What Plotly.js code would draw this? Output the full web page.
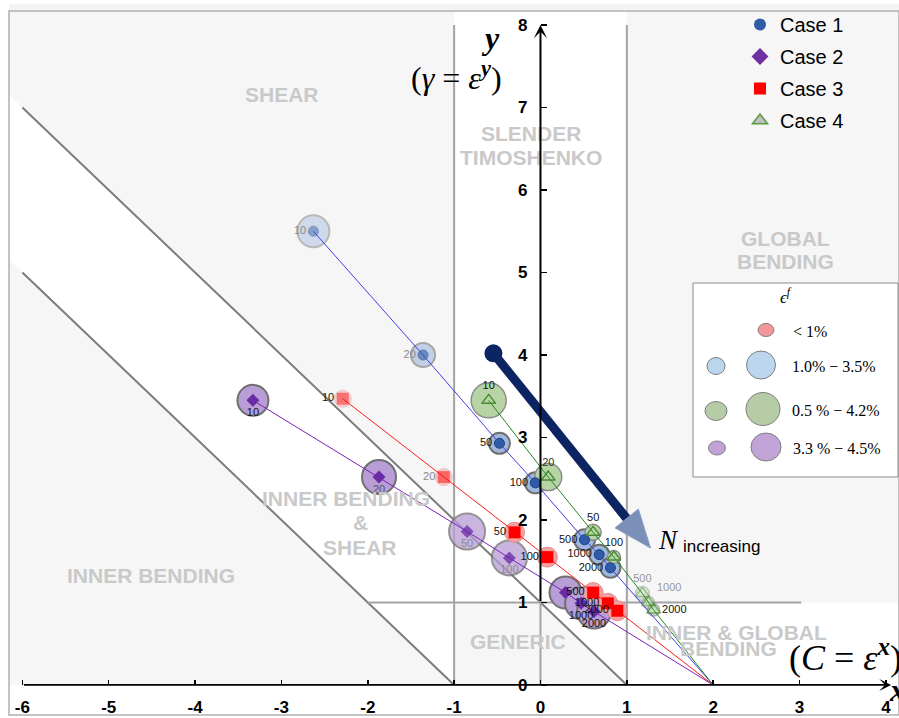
<!DOCTYPE html>
<html><head><meta charset="utf-8">
<script src="https://cdn.plot.ly/plotly-3.0.1.min.js"></script>
<style>body{margin:0;background:#fff}</style>
</head><body><div id="chart" style="width:899px;height:718px"></div>
<script>
// ---------------- data ----------------
const nLabels = ['10','20','50','100','500','1000','2000'];
const case1X = [-2.63, -1.36, -0.475, -0.06, 0.51, 0.68, 0.81];
const case1Y = [5.50, 4.00, 2.93, 2.45, 1.76, 1.58, 1.42];
const case2X = [-3.33, -1.87, -0.85, -0.36, 0.29, 0.47, 0.62];
const case2Y = [3.45, 2.52, 1.86, 1.54, 1.12, 0.99, 0.89];
const case3X = [-2.29, -1.12, -0.30, 0.08, 0.61, 0.78, 0.89];
const case3Y = [3.47, 2.52, 1.85, 1.55, 1.12, 0.99, 0.90];
const case4X = [-0.60, 0.09, 0.61, 0.85, 1.18, 1.25, 1.31];
const case4Y = [3.45, 2.52, 1.85, 1.55, 1.11, 1.00, 0.91];
const convergeX = [2];
const convergeY = [0];
const xTickVals = [-6,-5,-4,-3,-2,-1,0,1,2,3,4];
const xTickText = ['-6','-5','-4','-3','-2','-1','0','1','2','3','4'];
const yTickVals = [0,1,2,3,4,5,6,7,8];
const yTickText = ['0','1','2','3','4','5','6','7','8'];
const caseNames = ['Case 1','Case 2','Case 3','Case 4'];

const case1Bubble = [32, 24, 21, 21, 21, 20, 20];
const case2Bubble = [31, 34, 36, 35, 32, 32, 34];
const case3Bubble = [17, 17, 20, 20, 20, 20, 20];
const case4Bubble = [35, 27, 16, 13, 14, 12, 12];
const case1Fade = [0.45, 0.6, 1, 1, 1, 1, 1];
const case2Fade = [1, 1, 0.75, 0.75, 1, 1, 1];
const case3Fade = [0.45, 0.5, 1, 1, 1, 1, 1];
const case4Fade = [1, 1, 1, 1, 0.45, 0.55, 0.7];

// trend arrow (N increasing)
const arrowStart = [-0.545, 4.02];
const arrowTip = [1.275, 1.66];

// ---------------- geometry helpers ----------------
const XR = [-6.155, 4.152], YR = [-0.364, 8.17];
const W = 899, H = 718, ML = 9, MR = 0, MT = 11, MB = 3;
const PW = W - ML - MR, PH = H - MT - MB;
const kx = PW / (XR[1] - XR[0]), ky = PH / (YR[1] - YR[0]);
const pxX = px => XR[0] + (px - ML) / kx;
const pyY = py => YR[1] - (py - MT) / ky;
const pxP = px => (px - ML) / PW;
const pyP = py => (H - MB - py) / PH;

const traces = [];
function bubble(x, y, size, fade, fill, lineColor, lw) {
  traces.push({type:'scatter', mode:'markers', x:x, y:y, showlegend:false, hoverinfo:'skip',
    marker:{size:size, color:fill, opacity:fade, line:{color:lineColor, width:lw}}});
}
bubble(case2X, case2Y, case2Bubble, case2Fade, '#b89dd6', '#707070', 2);
bubble(case1X, case1Y, case1Bubble, case1Fade, '#9fb7df', '#707070', 2);
bubble(case4X, case4Y, case4Bubble, case4Fade, '#b7d4a4', '#8c8c8c', 1.5);
bubble(case3X, case3Y, case3Bubble, case3Fade, '#f3a1a4', '#e08c8c', 1);

function line(x, y, color) {
  traces.push({type:'scatter', mode:'lines', x:x.concat(convergeX), y:y.concat(convergeY),
    showlegend:false, hoverinfo:'skip', line:{color:color, width:1}});
}
line(case2X, case2Y, '#7a22b8');
line(case3X, case3Y, '#ff1a1a');
line(case1X, case1Y, '#3f3fe6');
line(case4X, case4Y, '#1f8a1f');

function pts(x, y, fade, marker, textPos, textColors) {
  traces.push({type:'scatter', mode:'markers+text', x:x, y:y, text:nLabels, showlegend:false,
    hoverinfo:'skip', textposition:textPos,
    textfont:{family:'Liberation Sans, Arial', size:11, color:textColors},
    marker:Object.assign({opacity:fade}, marker)});
}
pts(case2X, case2Y, case2Fade, {symbol:'diamond', size:10, color:'#6a2aa3'}, 'bottom center',
  ['#111','#555','#8a8a8a','#8a8a8a','rgba(0,0,0,0)','#111','#111']);
pts(case1X, case1Y, case1Fade, {symbol:'circle', size:10, color:'#2f5ca8', line:{color:'#1d3f7a', width:1}}, 'middle left',
  ['#8a8a8a','#8a8a8a','#111','#111','#111','#111','#111']);
pts(case4X, case4Y, case4Fade, {symbol:'triangle-up-open', size:12, color:'#4a8a36', line:{width:1.5}},
  ['top center','top center','top center','top center','top center','top right','middle right'],
  ['#111','#333','#111','#111','#999','#999','#111']);
pts(case3X, case3Y, case3Fade, {symbol:'square', size:12, color:'#ff0000'}, 'middle left',
  ['#111','#8a8a8a','#111','#111','#111','#111','#111']);

// legend-only traces
const legMarkers = [
  {symbol:'circle', size:12, color:'#2f5ca8'},
  {symbol:'diamond', size:13, color:'#7030a0'},
  {symbol:'square', size:12, color:'#ff0000'},
  {symbol:'triangle-up', size:13, color:'#bfbfbf', line:{color:'#5a9a40', width:1.5}}
];
caseNames.forEach((n, i) => traces.push({type:'scatter', mode:'markers', x:[null], y:[null],
  name:n, legendgroup:'g'+i, marker:legMarkers[i], hoverinfo:'skip'}));

// ---------------- shapes ----------------
const shapes = [];
const poly = (p, fill) => shapes.push({type:'path', layer:'below', xref:'x', yref:'y',
  path:'M' + p.map(q => q[0] + ',' + q[1]).join('L') + 'Z', fillcolor:fill, line:{width:0}});
const grayFill = '#f6f6f6';
poly([[XR[0], 1 - XR[0]], [-1, 2], [-1, YR[1]], [XR[0], YR[1]]], grayFill);     // shear
poly([[XR[0], -1 - XR[0]], [-1, 0], [XR[0], 0]], grayFill);                      // inner bending
poly([[-1, 0], [1, 0], [0, 1], [-1, 1]], grayFill);                              // generic
poly([[1, 1], [XR[1], 1], [XR[1], YR[1]], [1, YR[1]]], grayFill);                // global bending

const seg = (x0, y0, x1, y1, c, w) => shapes.push({type:'line', layer:'below', xref:'x', yref:'y',
  x0:x0, y0:y0, x1:x1, y1:y1, line:{color:c, width:w}});
seg(-6, 7, 1, 0, '#7c7c7c', 2);
seg(-6, 5, -1, 0, '#7c7c7c', 2);
seg(-1, 0, -1, 8.0, '#a3a3a3', 2);
seg(1, 0, 1, 8.0, '#a3a3a3', 2);
seg(-2, 1, 3.02, 1, '#a3a3a3', 2);
seg(0, 0, 0, 1, '#a3a3a3', 2);

// frame & top band
shapes.push({type:'rect', xref:'paper', yref:'paper', x0:0, x1:1, y0:pyP(10), y1:pyP(4),
  fillcolor:'#f3f3f3', line:{width:0}, layer:'below'});
shapes.push({type:'rect', xref:'paper', yref:'paper', x0:0, x1:1, y0:0, y1:1,
  line:{color:'#b0b0b0', width:1.5}, layer:'above'});

// legend box
shapes.push({type:'rect', xref:'paper', yref:'paper', x0:pxP(698), x1:pxP(905), y0:pyP(136), y1:pyP(12),
  fillcolor:'#f2f2f2', line:{color:'#c9c9c9', width:1}, layer:'below'});

// bubble-size legend box
shapes.push({type:'rect', xref:'paper', yref:'paper', x0:pxP(693), x1:pxP(898), y0:pyP(477), y1:pyP(283),
  fillcolor:'#ffffff', line:{color:'#8a8a8a', width:1}, layer:'above'});
const dot = (px, py, w, h, fill) => shapes.push({type:'circle', xref:'paper', yref:'paper',
  xsizemode:'pixel', ysizemode:'pixel', xanchor:pxP(px), yanchor:pyP(py),
  x0:-w/2, x1:w/2, y0:-h/2, y1:h/2, fillcolor:fill, line:{color:'#7f7f7f', width:1}, layer:'above'});
dot(766, 330, 16, 13, '#f4979b');
dot(716, 366, 18, 17, '#bdd6ef'); dot(761, 365, 29, 28, '#bdd6ef');
dot(716, 411, 22, 19, '#b6cca6'); dot(763, 409, 34, 33, '#b6cca6');
dot(717, 448, 17, 14, '#c2a3d7'); dot(766, 447, 30, 28, '#c2a3d7');

// trend arrow
(function(){
  const dx = (arrowTip[0] - arrowStart[0]) * kx, dy = (arrowTip[1] - arrowStart[1]) * ky;
  const L = Math.hypot(dx, dy), ux = dx / L, uy = dy / L;
  const headLen = 38, halfW = 15;
  const bx = arrowTip[0] - headLen * ux / kx, by = arrowTip[1] - headLen * uy / ky;
  const c1 = [bx + (-uy) * halfW / kx, by + ux * halfW / ky];
  const c2 = [bx - (-uy) * halfW / kx, by - ux * halfW / ky];
  const sx = bx + 4 * ux / kx, sy = by + 4 * uy / ky;
  shapes.push({type:'line', xref:'x', yref:'y', x0:arrowStart[0], y0:arrowStart[1], x1:sx, y1:sy,
    line:{color:'#0c2461', width:9}, layer:'above'});
  shapes.push({type:'path', xref:'x', yref:'y', layer:'above',
    path:'M' + arrowTip[0] + ',' + arrowTip[1] + 'L' + c1[0] + ',' + c1[1] + 'L' + c2[0] + ',' + c2[1] + 'Z',
    fillcolor:'#7b8fb8', line:{color:'#8fa0c4', width:1}});
  shapes.push({type:'circle', xref:'x', yref:'y', xsizemode:'pixel', ysizemode:'pixel',
    xanchor:arrowStart[0], yanchor:arrowStart[1], x0:-9, x1:9, y0:-9, y1:9,
    fillcolor:'#0c2461', line:{width:0}, layer:'above'});
})();

// ---------------- annotations ----------------
const ann = [];
const regionFont = {family:'Liberation Sans, Arial', size:21, color:'#c9c9c9', weight:'bold'};
const region = (t, px, py) => ann.push({text:'<b>' + t + '</b>', x:pxX(px), y:pyY(py), xref:'x', yref:'y',
  showarrow:false, font:regionFont});
region('SHEAR', 282, 94);
region('SLENDER', 531, 133); region('TIMOSHENKO', 531, 157);
region('GLOBAL', 785, 238); region('BENDING', 785, 261);
region('INNER BENDING', 346, 498); region('&amp;', 360, 522); region('SHEAR', 360, 547);
region('INNER BENDING', 151, 575);
region('GENERIC', 518, 641);
region('INNER &amp; GLOBAL', 736, 632); region('BENDING', 728, 648);

// axis arrows
ann.push({x:0, y:8.0, ax:0, ay:1, axref:'x', ayref:'y', xref:'x', yref:'y', text:'', showarrow:true,
  arrowhead:3, arrowsize:1.1, arrowwidth:2, arrowcolor:'#000', standoff:0, startstandoff:0});
ann.push({x:4.06, y:0, ax:-6, ay:0, axref:'x', ayref:'y', xref:'x', yref:'y', text:'', showarrow:true,
  arrowhead:3, arrowsize:1.1, arrowwidth:1.8, arrowcolor:'#000', standoff:0, startstandoff:0});

const serif = 'Liberation Serif, DejaVu Serif, serif';
ann.push({text:'<b><i>y</i></b>', x:pxX(490), y:pyY(38), showarrow:false, font:{family:serif, size:32, color:'#000'}});
ann.push({text:'(<i>γ</i> = <i>ε</i><sup><b><i>y</i></b></sup>)', x:pxX(456), y:pyY(76), showarrow:false,
  font:{family:serif, size:32, color:'#000'}});
ann.push({text:'(<i>C</i> = <i>ε</i><sup><b><i>x</i></b></sup>)', x:pxX(787), y:pyY(655), xanchor:'left', showarrow:false,
  font:{family:serif, size:36, color:'#000'}});
ann.push({text:'<b><i>x</i></b>', x:pxX(897), y:pyY(690), showarrow:false, font:{family:serif, size:32, color:'#000'}});

// N increasing
ann.push({text:'<i>N</i>', x:pxX(668), y:pyY(540), showarrow:false, font:{family:serif, size:27, color:'#000'}});
ann.push({text:'increasing', x:pxX(681), y:pyY(546), xanchor:'left', showarrow:false,
  font:{family:'Liberation Sans, Arial', size:17, color:'#000'}});

// bubble legend texts
const paperTxt = (t, px, py, size, anchor) => ann.push({text:t, xref:'paper', yref:'paper', x:pxP(px), y:pyP(py),
  xanchor:anchor || 'left', showarrow:false, font:{family:serif, size:size, color:'#000'}});
paperTxt('<i>ϵ</i><sup><i>f</i></sup>', 786, 296, 17, 'center');
paperTxt('&lt; 1%', 791, 331, 16);
paperTxt('1.0% − 3.5%', 790, 366, 16);
paperTxt('0.5 % − 4.2%', 790, 411, 16);
paperTxt('3.3 % − 4.5%', 791, 449, 16);

const tickFont = {family:'Liberation Sans, Arial', size:17, color:'#000', weight:'bold'};
const layout = {
  width:W, height:H, margin:{l:ML, r:MR, t:MT, b:MB},
  paper_bgcolor:'#ffffff', plot_bgcolor:'#ffffff',
  xaxis:{range:XR, showgrid:false, zeroline:false, showline:false, ticks:'inside', ticklen:5, tickwidth:1.5,
    tickcolor:'#000', tickvals:xTickVals, ticktext:xTickText, tickfont:tickFont,
    anchor:'free', position:(0 - YR[0]) / (YR[1] - YR[0]), ticklabelstandoff:10, fixedrange:true},
  yaxis:{range:YR, showgrid:false, zeroline:false, showline:false, ticks:'inside', ticklen:6, tickwidth:1.5,
    tickcolor:'#000', tickvals:yTickVals, ticktext:yTickText, tickfont:tickFont,
    anchor:'free', position:(0 - XR[0]) / (XR[1] - XR[0]), ticklabelstandoff:13, fixedrange:true},
  showlegend:true,
  legend:{x:pxP(740), y:pyP(5), xanchor:'left', yanchor:'top', bgcolor:'rgba(0,0,0,0)', borderwidth:0,
    font:{family:'Liberation Sans, Arial', size:20, color:'#000'}, tracegroupgap:3, itemclick:false, itemdoubleclick:false},
  shapes:shapes, annotations:ann
};
Plotly.newPlot('chart', traces, layout, {displayModeBar:false, staticPlot:true});
</script>
</body></html>
